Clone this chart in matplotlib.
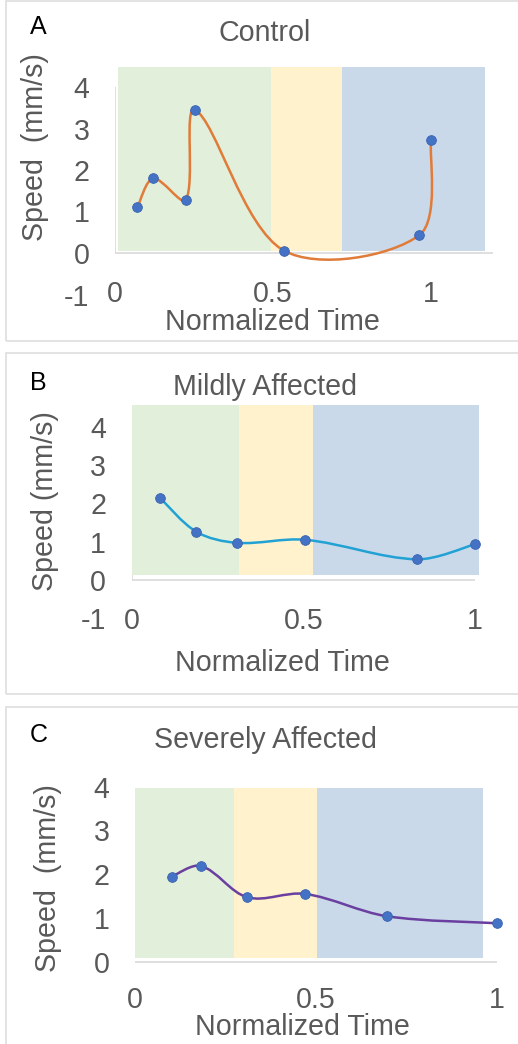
import numpy as np
import matplotlib
matplotlib.use("Agg")
import matplotlib.pyplot as plt
from matplotlib.path import Path
from matplotlib.patches import PathPatch, Rectangle

plt.rcParams['font.family'] = ['Liberation Sans', 'DejaVu Sans']
plt.rcParams['axes.unicode_minus'] = False

# ---- data ----
ctrl_t = [0.071, 0.121, 0.224, 0.253, 0.534, 0.963, 1.0]
ctrl_v = [1.10, 1.80, 1.28, 3.45, 0.06, 0.43, 2.72]

mild_t = [0.082, 0.188, 0.307, 0.505, 0.830, 0.998]
mild_v = [2.15, 1.26, 0.97, 1.05, 0.54, 0.93]

sev_t = [0.101, 0.182, 0.311, 0.470, 0.696, 1.0]
sev_v = [1.94, 2.19, 1.47, 1.55, 1.04, 0.88]

# phase boundaries (normalized time) for the shaded background
ctrl_phases = [0.01, 0.493, 0.718, 1.17]
mild_phases = [0.0, 0.313, 0.529, 1.011]
sev_phases = [0.0, 0.274, 0.502, 0.961]

titles = ["Control", "Mildly Affected", "Severely Affected"]
letters = ["A", "B", "C"]
ylabels = ["Speed  (mm/s)", "Speed (mm/s)", "Speed  (mm/s)"]
xticks = [0, 0.5, 1]
xticklabels = ["0", "0.5", "1"]

phase_colors = ["#e2efda", "#fff2cc", "#c9d9ea"]
gray = "#595959"
axis_gray = "#d9d9d9"
FS = 20.6

W, H = 518, 1044
fig = plt.figure(figsize=(W / 100, H / 100), dpi=100)


def fx(px):
    return px / W


def fy(py):
    return 1 - py / H


def smooth_path(xs, ys, sx, sy):
    # smoothed line like a spreadsheet chart: Catmull-Rom style cubic Beziers,
    # handles scaled by the chord lengths measured on screen
    pts = np.column_stack([np.array(xs) * sx, np.array(ys) * sy])
    n = len(pts)
    d = np.hypot(*(pts[1:] - pts[:-1]).T)
    out_h = np.zeros_like(pts)
    in_h = np.zeros_like(pts)
    for i in range(n):
        if i == 0:
            out_h[i] = (pts[1] - pts[0]) / 6
        elif i == n - 1:
            in_h[i] = (pts[i] - pts[i - 1]) / 6
        else:
            tng = pts[i + 1] - pts[i - 1]
            tot = d[i - 1] + d[i]
            out_h[i] = tng * d[i] / tot / 3
            in_h[i] = tng * d[i - 1] / tot / 3
    verts = [pts[0]]
    codes = [Path.MOVETO]
    for i in range(n - 1):
        verts += [pts[i] + out_h[i], pts[i + 1] - in_h[i + 1], pts[i + 1]]
        codes += [Path.CURVE4] * 3
    verts = np.array(verts) / [sx, sy]
    return Path(verts, codes)


def panel(box, x0, sx, xmax, y0, sy, ylo, yhi, yticks, shade_y, phases,
          axis_end, t, v, line_color, xpad, letter_xy, title_xy, ylabel_xy,
          xlabel_xy, idx, yaxis_line=True):
    # light frame around each panel
    fig.patches.append(Rectangle((fx(6), fy(box[1])), fx(530), (box[1] - box[0]) / H,
                                 transform=fig.transFigure, fill=False,
                                 edgecolor="#dedede", lw=1.2))
    ax = fig.add_axes([fx(x0), fy(y0 - ylo * sy), xmax * sx / W, (yhi - ylo) * sy / H])
    ax.set_xlim(0, xmax)
    ax.set_ylim(ylo, yhi)
    ax.patch.set_alpha(0)
    for s in ax.spines.values():
        s.set_visible(False)

    for k in range(3):
        ax.add_patch(Rectangle((phases[k], shade_y[0]), phases[k + 1] - phases[k],
                               shade_y[1] - shade_y[0], facecolor=phase_colors[k],
                               edgecolor="none", zorder=1))
    ax.hlines(0, 0, axis_end, color=axis_gray, lw=1.2, zorder=0.5)
    if yaxis_line:
        ax.vlines(0, 0, 4, color=axis_gray, lw=1.2, zorder=0.5)

    ax.add_patch(PathPatch(smooth_path(t, v, sx, sy), fill=False, edgecolor=line_color,
                           lw=1.8, zorder=3, clip_on=False))
    ax.plot(t, v, 'o', color="#4472c4", markersize=7, markeredgecolor="#3a64b0",
            markeredgewidth=0.6, zorder=4, clip_on=False)

    ax.set_xticks(xticks)
    ax.set_xticklabels(xticklabels)
    ax.set_yticks(yticks)
    ax.tick_params(axis='both', length=0, labelsize=FS, labelcolor=gray)
    ax.tick_params(axis='y', pad=18.5)
    ax.tick_params(axis='x', pad=xpad)

    fig.text(fx(letter_xy[0]), fy(letter_xy[1]), letters[idx], fontsize=18,
             color="black", ha='center', va='center')
    fig.text(fx(title_xy[0]), fy(title_xy[1]), titles[idx], fontsize=FS, color=gray,
             ha='center', va='center')
    fig.text(fx(ylabel_xy[0]), fy(ylabel_xy[1]), ylabels[idx], fontsize=FS, color=gray,
             ha='center', va='center', rotation=90)
    fig.text(fx(xlabel_xy[0]), fy(xlabel_xy[1]), "Normalized Time", fontsize=FS,
             color=gray, ha='center', va='center')
    return ax


panel((1, 341), 115, 316, 1.2, 253, 41.5, -1.0, 4.5, range(-1, 5), (0.05, 4.48),
      ctrl_phases, 1.196, ctrl_t, ctrl_v, "#e07b39", -10.4,
      (38, 27), (265, 33), (35, 147), (272, 322), 0)

panel((353, 694), 131.7, 343.5, 1.03, 580, 38.3, -1.0, 4.57, range(-1, 5), (0.13, 4.57),
      mild_phases, 1.0, mild_t, mild_v, "#22a2d4", -8.4,
      (38, 383), (265, 387), (45, 501), (282, 663), 1)

panel((707, 1046), 135, 361.7, 1.03, 961.7, 43.75, -0.2, 4.05, range(0, 5), (0.08, 3.96),
      sev_phases, 1.0, sev_t, sev_v, "#6a3fa0", 11.0,
      (39, 735), (265, 740), (48, 878), (302, 1027), 2, yaxis_line=False)

fig.savefig("out.png", dpi=100)
